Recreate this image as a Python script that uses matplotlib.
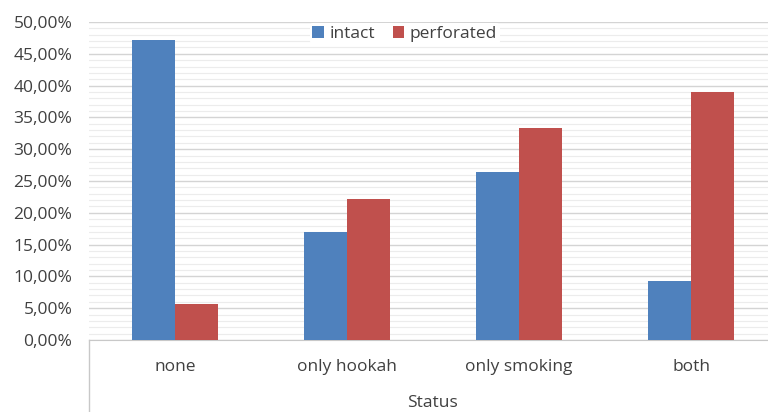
import matplotlib
matplotlib.use("Agg")
import matplotlib.pyplot as plt
from matplotlib.ticker import MultipleLocator, FuncFormatter
import numpy as np

plt.rcParams['font.family'] = ['Open Sans', 'DejaVu Sans']

categories = ['none', 'only hookah', 'only smoking', 'both']
intact = [47.2, 17.0, 26.4, 9.3]
perforated = [5.7, 22.2, 33.3, 39.0]

W, H = 768, 412
fig = plt.figure(figsize=(W / 100, H / 100), dpi=100)
# plot area runs a little beyond the right edge, as in the reference
ax = fig.add_axes([89 / W, (H - 340) / H, 688 / W, 318 / H])

x = np.arange(len(categories))
bw = 0.25
ax.bar(x - bw / 2, intact, bw, color='#4F81BD', label='intact', zorder=3)
ax.bar(x + bw / 2, perforated, bw, color='#C0504D', label='perforated', zorder=3)

ax.set_xlim(-0.5, 3.5)
ax.set_ylim(0, 50)
ax.yaxis.set_major_locator(MultipleLocator(5))
ax.yaxis.set_minor_locator(MultipleLocator(1))
ax.yaxis.set_major_formatter(FuncFormatter(lambda v, p: f"{v:.2f}%".replace('.', ',')))
ax.grid(axis='y', which='major', color='#d4d4d4', lw=1.0, zorder=0)
ax.grid(axis='y', which='minor', color='#ececec', lw=0.8, zorder=0)

for s in ['top', 'right', 'left']:
    ax.spines[s].set_visible(False)
ax.spines['bottom'].set_color('#c8c8c8')

fs = 12.5
ax.tick_params(axis='y', which='both', length=0, labelsize=fs, labelcolor='#404040', pad=12)
ax.set_xticks(x)
ax.set_xticklabels(categories)
ax.tick_params(axis='x', length=0, labelsize=fs, labelcolor='#404040', pad=14)

# category axis divider line below the plot
ax.plot([-0.5, -0.5], [0, -12], color='#c8c8c8', lw=1, clip_on=False)

fig.text(432 / W, 1 - 403 / H, 'Status', ha='center', va='center',
         fontsize=fs, color='#404040')

leg = ax.legend(loc='center', bbox_to_anchor=(0.459, 1 - 12 / 318), ncol=2,
                frameon=True, fontsize=fs, handlelength=0.65, handleheight=0.65,
                columnspacing=1.0, handletextpad=0.35, borderpad=0.15)
leg.get_frame().set_edgecolor('none')
leg.get_frame().set_facecolor('white')
leg.get_frame().set_alpha(1)
for t in leg.get_texts():
    t.set_color('#404040')

fig.savefig('out.png', dpi=100)
